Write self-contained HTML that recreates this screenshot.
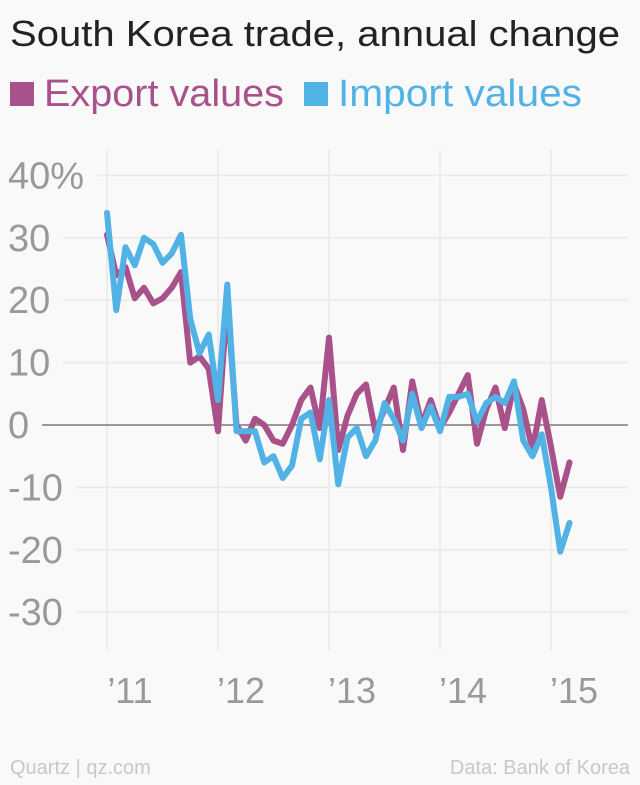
<!DOCTYPE html>
<html><head><meta charset="utf-8"><style>
body{margin:0;background:#f9f9f9;width:640px;height:780px;overflow:hidden;font-family:"Liberation Sans",sans-serif;}
</style></head><body>
<svg width="640" height="780">
<text x="10" y="46" font-size="36" fill="#222" textLength="610" lengthAdjust="spacingAndGlyphs">South Korea trade, annual change</text>
<g>
<rect x="10" y="82" width="24" height="24" fill="#a8518a"/>
<text x="44" y="106" font-size="38" fill="#a8518a" textLength="240" lengthAdjust="spacingAndGlyphs">Export values</text>
<rect x="304" y="82" width="24" height="24" fill="#51b2e5"/>
<text x="338" y="106" font-size="38" fill="#51b2e5" textLength="244" lengthAdjust="spacingAndGlyphs">Import values</text>
</g>
<g id="grid"></g>
<g id="marks"></g>
<text x="10" y="774" font-size="20" fill="#c8c8c8">Quartz | qz.com</text>
<text x="630" y="774" font-size="20" fill="#c8c8c8" text-anchor="end">Data: Bank of Korea</text>
</svg>
<script>
const yTicks=[40,30,20,10,0,-10,-20,-30];
const yTickLabels=["40%","30","20","10","0","-10","-20","-30"];
const years=["’11","’12","’13","’14","’15"];
const exportValues=[30.5,24,25.3,20.3,22,19.5,20.3,22,24.5,10,11,9,
-1,20,0,-2.5,1,0,-2.5,-3,0,4,6,-0.5,
14,-4,1.5,5,6.5,-1,2.5,6,-4,7,0,4,
-0.5,2,5,8,-3,2.5,6,-0.5,6.5,2.5,-4,4,
-3.5,-11.5,-6];
const importValues=[34,18.4,28.5,25.6,30,29,26,27.5,30.5,17,11.5,14.5,
4,22.5,-1,-1,-1,-6,-5,-8.5,-6.5,1,2,-5.5,
4,-9.5,-2,-0.5,-5,-2.5,3.5,1,-2.5,5,-0.5,3,
-1,4.5,4.5,5,0.5,3.5,4.5,3.5,7,-2.5,-5,-1.5,
-10,-20.3,-15.7];
const NS="http://www.w3.org/2000/svg";
const yS=v=>425-6.24*v;
const xS=i=>107+9.25*i;
const grid=document.getElementById('grid'),marks=document.getElementById('marks');
function mk(tag,attrs,parent){const e=document.createElementNS(NS,tag);for(const k in attrs)e.setAttribute(k,attrs[k]);parent.appendChild(e);return e;}
years.forEach((y,i)=>{
 const x=xS(i*12);
 const l=mk('line',{x1:x,x2:x,y1:150,y2:650,stroke:'#ececec','stroke-width':2},grid);
 
 
 const t=mk('text',{x:x+23,y:703,'font-size':36,fill:'#999','text-anchor':'middle'},grid);
 t.textContent=y;
 
 
});
yTicks.forEach((v,i)=>{
 const y=yS(v);
 const t=mk('text',{x:8,y:y+13,'font-size':38,fill:'#999'},grid);
 t.textContent=yTickLabels[i];
 
 
 const start=8+t.getComputedTextLength()+13;
 const l=mk('line',{x1:start,x2:628,y1:y,y2:y,stroke:v===0?'#999':'#ececec','stroke-width':2},grid);
 
 
});
function line(vals,color,name){
 const p=mk('polyline',{points:vals.map((v,i)=>xS(i)+','+yS(v)).join(' '),fill:'none',stroke:color,'stroke-width':6,'stroke-linejoin':'round','stroke-linecap':'round'},marks);
 
 
}
line(exportValues,'#a8518a','export-line');
line(importValues,'#51b2e5','import-line');
</script>
</body></html>
